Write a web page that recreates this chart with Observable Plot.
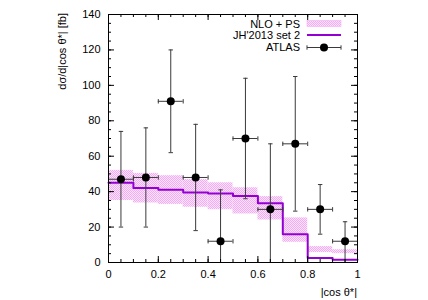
<!DOCTYPE html>
<html><head><meta charset="utf-8">
<script src="https://cdn.jsdelivr.net/npm/d3@7"></script>
<script src="https://cdn.jsdelivr.net/npm/@observablehq/plot@0.6"></script>
<style>
body{margin:0;background:#fff}
svg{font-family:"Liberation Sans",Arial,sans-serif}
</style>
</head><body><div id="chart"></div>
<script>
// bins of |cos theta*|
const binLo = [0.0,0.1,0.2,0.3,0.4,0.5,0.6,0.7,0.8,0.9];
const binHi = [0.1,0.2,0.3,0.4,0.5,0.6,0.7,0.8,0.9,1.0];
// ATLAS data
const atlasY  = [47,48,91,48,12,70,30,67,30,12];
const atlasHi = [74,76,120,78,41,104,67,105,44,23];
const atlasLo = [20,20,62,18,0,36,0,29,16,0];
// JH'2013 set 2
const jhY = [45,42,41,39.5,39,37.5,33.5,16,2.5,1.5];
// NLO + PS band
const nloHi = [52,50.3,49,46.8,45,42.2,37.2,25.2,9,7.2];
const nloLo = [35,33.6,32.8,31.2,29.8,27.4,24,11.4,5.6,5];
// ticks
const xTicks = [0,0.2,0.4,0.6,0.8,1];
const xTickLabels = ["0","0.2","0.4","0.6","0.8","1"];
const xMinor = d3.range(0,21).map(i=>i*0.05);
const yTicks = [0,20,40,60,80,100,120,140];
const yTickLabels = ["0","20","40","60","80","100","120","140"];
const yMinor = d3.range(0,29).map(i=>i*5);
const legendLabels = ["NLO + PS","JH'2013 set 2","ATLAS"];
const yLabel = "dσ/d|cos θ*| [fb]";
const xLabel = "|cos θ*|";

const bins = binLo.map((lo,i)=>({lo, hi: binHi[i], mid: (lo+binHi[i])/2,
  y: atlasY[i], yhi: atlasHi[i], ylo: atlasLo[i], jh: jhY[i], nhi: nloHi[i], nlo: nloLo[i]}));
const jhPts = bins.map(b=>({x:b.lo, y:b.jh})).concat([{x:binHi[binHi.length-1], y:jhY[jhY.length-1]}]);

const W=428,H=300,mL=108,mR=71,mT=14,mB=38;
const fw=W-mL-mR, fh=H-mT-mB;
const purple="#9400d3";
const hCap={draw(c,s){const r=Math.sqrt(s/Math.PI);c.moveTo(-r,0);c.lineTo(r,0);}};
const vCap={draw(c,s){const r=Math.sqrt(s/Math.PI);c.moveTo(0,-r);c.lineTo(0,r);}};
const ebColor="#3a3a3a";

const svg = Plot.plot({
  width:W,height:H,marginLeft:mL,marginRight:mR,marginTop:mT,marginBottom:mB,
  style:{fontFamily:"Liberation Sans, Arial, sans-serif",fontSize:"11px",background:"#fff"},
  x:{domain:[0,1]},
  y:{domain:[0,140]},
  marks:[
    Plot.rect(bins,{x1:"lo",x2:"hi",y1:"nlo",y2:"nhi",fill:"url(#nlops)"}),
    Plot.line(jhPts,{x:"x",y:"y",curve:"step-after",stroke:purple,strokeWidth:2}),
    // error bars
    Plot.ruleX(bins,{x:"mid",y1:"ylo",y2:"yhi",stroke:ebColor,strokeWidth:1}),
    Plot.ruleY(bins,{y:"y",x1:"lo",x2:"hi",stroke:ebColor,strokeWidth:1}),
    Plot.dot(bins,{x:"mid",y:"yhi",symbol:hCap,r:2.2,stroke:ebColor,strokeWidth:1}),
    Plot.dot(bins.filter(b=>b.ylo>0),{x:"mid",y:"ylo",symbol:hCap,r:2.2,stroke:ebColor,strokeWidth:1}),
    Plot.dot(bins,{x:"lo",y:"y",symbol:vCap,r:2.2,stroke:ebColor,strokeWidth:1}),
    Plot.dot(bins,{x:"hi",y:"y",symbol:vCap,r:2.2,stroke:ebColor,strokeWidth:1}),
    Plot.dot(bins,{x:"mid",y:"y",r:4,fill:"#000"}),
    // inward ticks on all sides
    Plot.tickX(xMinor,{x:d=>d,insetTop:fh-3,stroke:"#000"}),
    Plot.tickX(xMinor,{x:d=>d,insetBottom:fh-3,stroke:"#000"}),
    Plot.tickX(xTicks,{x:d=>d,insetTop:fh-6,stroke:"#000"}),
    Plot.tickX(xTicks,{x:d=>d,insetBottom:fh-6,stroke:"#000"}),
    Plot.tickY(yMinor,{y:d=>d,insetRight:fw-3,stroke:"#000"}),
    Plot.tickY(yMinor,{y:d=>d,insetLeft:fw-3,stroke:"#000"}),
    Plot.tickY(yTicks,{y:d=>d,insetRight:fw-6,stroke:"#000"}),
    Plot.tickY(yTicks,{y:d=>d,insetLeft:fw-6,stroke:"#000"}),
    Plot.axisX(xTicks,{tickSize:0,tickPadding:8,tickFormat:(d,i)=>xTickLabels[i],label:null,fontSize:11,fill:"#000"}),
    Plot.axisY(yTicks,{tickSize:0,tickPadding:8,tickFormat:(d,i)=>yTickLabels[i],label:null,fontSize:11,fill:"#000"}),
    Plot.frame({stroke:"#000",strokeWidth:1})
  ]
});

const s=d3.select(svg);
const defs=s.insert("defs",":first-child");
const pat=defs.append("pattern").attr("id","nlops").attr("patternUnits","userSpaceOnUse").attr("width",2).attr("height",2);
pat.append("rect").attr("width",2).attr("height",2).attr("fill","#fde4fd");
pat.append("rect").attr("width",1).attr("height",1).attr("fill","#f3acf3");
pat.append("rect").attr("x",1).attr("y",1).attr("width",1).attr("height",1).attr("fill","#f3acf3");

// axis titles
s.append("text").attr("transform",`translate(66,${mT-1}) rotate(-90)`).attr("text-anchor","end")
  .attr("font-size",11).attr("fill","#000").text(yLabel);
s.append("text").attr("x",W-mR).attr("y",296).attr("text-anchor","end")
  .attr("font-size",11).attr("fill","#000").text(xLabel);

// legend
const lg=s.append("g").attr("font-size",11).attr("fill","#000");
const lgX=300, swL=307, swR=341, rows=[27.5,39,50.5];
legendLabels.forEach((t,i)=>lg.append("text").attr("x",lgX).attr("y",rows[i]).attr("text-anchor","end").text(t));
lg.append("rect").attr("x",swL).attr("y",20.5).attr("width",swR-swL).attr("height",6).attr("fill","url(#nlops)").attr("stroke","#f3b0f3").attr("stroke-width",0.6);
lg.append("line").attr("x1",swL).attr("x2",swR).attr("y1",35).attr("y2",35).attr("stroke",purple).attr("stroke-width",2);
lg.append("line").attr("x1",swL).attr("x2",swR).attr("y1",47.5).attr("y2",47.5).attr("stroke",ebColor);
lg.append("line").attr("x1",swL).attr("x2",swL).attr("y1",45.3).attr("y2",49.7).attr("stroke",ebColor);
lg.append("line").attr("x1",swR).attr("x2",swR).attr("y1",45.3).attr("y2",49.7).attr("stroke",ebColor);
lg.append("circle").attr("cx",(swL+swR)/2).attr("cy",47.5).attr("r",4).attr("fill","#000");

document.getElementById("chart").appendChild(svg);
</script>
</body></html>
